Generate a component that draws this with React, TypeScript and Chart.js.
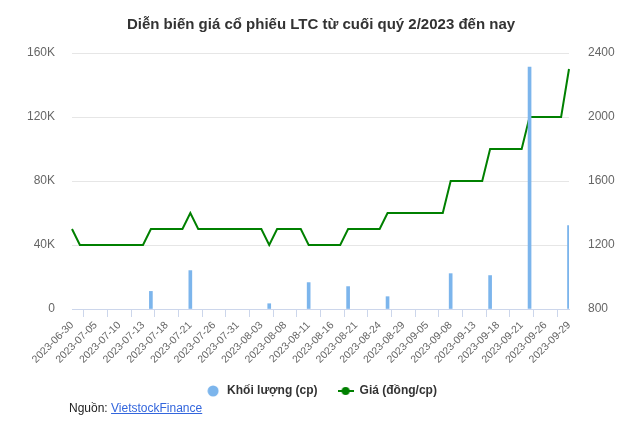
import React, { useEffect, useRef } from 'react';
import Chart from 'chart.js/auto';

const dates: string[] = [
  '2023-06-30',
  '2023-07-03', '2023-07-04', '2023-07-05', '2023-07-06', '2023-07-07',
  '2023-07-10', '2023-07-11', '2023-07-12', '2023-07-13', '2023-07-14',
  '2023-07-17', '2023-07-18', '2023-07-19', '2023-07-20', '2023-07-21',
  '2023-07-24', '2023-07-25', '2023-07-26', '2023-07-27', '2023-07-28',
  '2023-07-31', '2023-08-01', '2023-08-02', '2023-08-03', '2023-08-04',
  '2023-08-07', '2023-08-08', '2023-08-09', '2023-08-10', '2023-08-11',
  '2023-08-14', '2023-08-15', '2023-08-16', '2023-08-17', '2023-08-18',
  '2023-08-21', '2023-08-22', '2023-08-23', '2023-08-24', '2023-08-25',
  '2023-08-28', '2023-08-29', '2023-08-30', '2023-08-31',
  '2023-09-05', '2023-09-06', '2023-09-07', '2023-09-08',
  '2023-09-11', '2023-09-12', '2023-09-13', '2023-09-14', '2023-09-15',
  '2023-09-18', '2023-09-19', '2023-09-20', '2023-09-21', '2023-09-22',
  '2023-09-25', '2023-09-26', '2023-09-27', '2023-09-28', '2023-09-29',
];

// khối lượng (cp); null = không có giao dịch
const volume: (number | null)[] = [
  null,
  null, null, null, null, null,
  null, null, null, null, 11000,
  null, null, null, null, 24000,
  null, null, null, null, null,
  null, null, null, null, 3300,
  null, null, null, null, 16500,
  null, null, null, null, 14000,
  null, null, null, null, 7700,
  null, null, null, null,
  null, null, null, 22100,
  null, null, null, null, 20900,
  null, null, null, null, 151200,
  null, null, null, null, 52200,
];

// giá (đồng/cp)
const price: number[] = [
  1300,
  1200, 1200, 1200, 1200, 1200,
  1200, 1200, 1200, 1200, 1300,
  1300, 1300, 1300, 1300, 1400,
  1300, 1300, 1300, 1300, 1300,
  1300, 1300, 1300, 1300, 1200,
  1300, 1300, 1300, 1300, 1200,
  1200, 1200, 1200, 1200, 1300,
  1300, 1300, 1300, 1300, 1400,
  1400, 1400, 1400, 1400,
  1400, 1400, 1400, 1600,
  1600, 1600, 1600, 1600, 1800,
  1800, 1800, 1800, 1800, 2000,
  2000, 2000, 2000, 2000, 2300,
];

const FONT = '"Liberation Sans", Arial, sans-serif';
const BAR_COLOR = '#7cb5ec';
const LINE_COLOR = '#008000';

function circleMarker(): HTMLCanvasElement {
  const c = document.createElement('canvas');
  c.width = 12;
  c.height = 12;
  const ctx = c.getContext('2d')!;
  ctx.fillStyle = BAR_COLOR;
  ctx.beginPath();
  ctx.arc(6, 6, 5.5, 0, Math.PI * 2);
  ctx.fill();
  return c;
}

function lineMarker(): HTMLCanvasElement {
  const c = document.createElement('canvas');
  c.width = 16;
  c.height = 10;
  const ctx = c.getContext('2d')!;
  ctx.strokeStyle = LINE_COLOR;
  ctx.lineWidth = 2;
  ctx.beginPath();
  ctx.moveTo(0, 5);
  ctx.lineTo(16, 5);
  ctx.stroke();
  ctx.fillStyle = LINE_COLOR;
  ctx.beginPath();
  ctx.arc(8, 5, 4, 0, Math.PI * 2);
  ctx.fill();
  return c;
}

const App: React.FC = () => {
  const canvasRef = useRef<HTMLCanvasElement | null>(null);
  const chartRef = useRef<Chart | null>(null);

  useEffect(() => {
    document.body.style.margin = '0';
    if (!canvasRef.current) return;
    if (chartRef.current) chartRef.current.destroy();

    const markers = [circleMarker(), lineMarker()];

    chartRef.current = new Chart(canvasRef.current, {
      type: 'bar',
      data: {
        labels: dates,
        datasets: [
          {
            type: 'bar',
            label: 'Khối lượng (cp)',
            data: volume,
            backgroundColor: BAR_COLOR,
            barThickness: 3,
            yAxisID: 'y',
            order: 0,
          },
          {
            type: 'line',
            label: 'Giá (đồng/cp)',
            data: price,
            borderColor: LINE_COLOR,
            backgroundColor: LINE_COLOR,
            borderWidth: 2,
            pointRadius: 0,
            tension: 0,
            yAxisID: 'y1',
            order: 1,
          },
        ],
      },
      options: {
        animation: false,
        responsive: false,
        maintainAspectRatio: false,
        layout: { padding: 0 },
        plugins: {
          tooltip: { enabled: false },
          title: {
            display: true,
            text: 'Diễn biến giá cổ phiếu LTC từ cuối quý 2/2023 đến nay',
            color: '#333333',
            font: { family: FONT, size: 15, weight: 'bold' },
            padding: { top: 16, bottom: 19 },
          },
          legend: {
            position: 'bottom',
            labels: {
              usePointStyle: true,
              pointStyleWidth: 16,
              padding: 20,
              color: '#333333',
              font: { family: FONT, size: 12, weight: 'bold' },
              generateLabels: (chart) => {
                const items = Chart.defaults.plugins.legend.labels.generateLabels(chart);
                return items.map((it) => ({
                  ...it,
                  pointStyle: markers[it.datasetIndex ?? 0],
                }));
              },
            },
          },
        },
        scales: {
          x: {
            offset: false,
            afterBuildTicks: (scale) => {
              scale.ticks = scale.ticks.filter((_t, i) => i % 3 === 0);
            },
            afterFit: (scale) => {
              scale.height = 56;
            },
            grid: {
              display: true,
              drawOnChartArea: false,
              drawTicks: true,
              tickLength: 8,
              color: '#ccd6eb',
            },
            border: { display: true, color: '#ccd6eb' },
            ticks: {
              autoSkip: false,
              minRotation: 45,
              maxRotation: 45,
              padding: 2,
              color: '#666666',
              font: { family: FONT, size: 10.5 },
            },
          },
          y: {
            position: 'left',
            min: 0,
            max: 160000,
            afterFit: (scale) => {
              scale.width = 72;
            },
            grid: { color: '#e6e6e6', drawTicks: false },
            border: { display: false },
            ticks: {
              stepSize: 40000,
              padding: 17,
              color: '#666666',
              font: { family: FONT, size: 12 },
              callback: (v) => (Number(v) === 0 ? '0' : `${Number(v) / 1000}K`),
            },
          },
          y1: {
            position: 'right',
            min: 800,
            max: 2400,
            afterFit: (scale) => {
              scale.width = 73;
            },
            grid: { drawOnChartArea: false, drawTicks: false },
            border: { display: false },
            ticks: {
              stepSize: 400,
              padding: 19,
              color: '#666666',
              font: { family: FONT, size: 12 },
              callback: (v) => String(v),
            },
          },
        },
      },
    });

    return () => {
      if (chartRef.current) {
        chartRef.current.destroy();
        chartRef.current = null;
      }
    };
  }, []);

  return (
    <div style={{ position: 'relative', width: 642, height: 448, background: '#ffffff' }}>
      <canvas ref={canvasRef} width={642} height={407} style={{ display: 'block', width: 642, height: 407 }} />
      <div
        style={{
          position: 'absolute',
          left: 69,
          top: 401,
          fontFamily: FONT,
          fontSize: 12,
          color: '#222222',
        }}
      >
        Nguồn:{' '}
        <a href="#" style={{ color: '#3366dd', textDecoration: 'underline' }}>
          VietstockFinance
        </a>
      </div>
    </div>
  );
};

export default App;
